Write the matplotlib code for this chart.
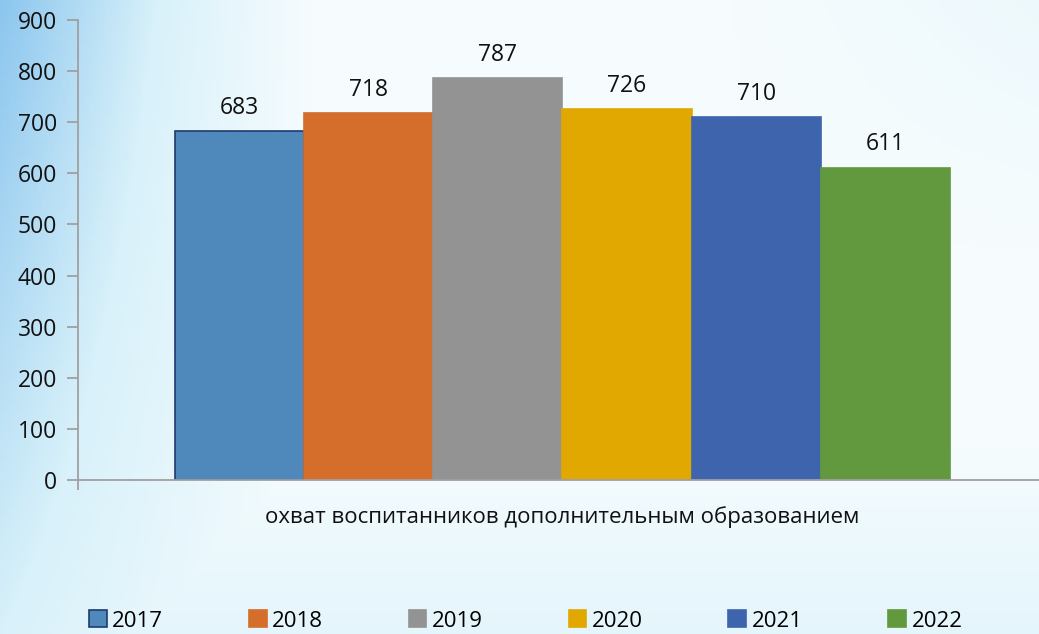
import numpy as np
import matplotlib.pyplot as plt
from matplotlib.colors import LinearSegmentedColormap

years = ["2017", "2018", "2019", "2020", "2021", "2022"]
values = [683, 718, 787, 726, 710, 611]
colors = ["#4f88bb", "#d46e2a", "#939393", "#e0a800", "#3d64ad", "#63993e"]
edges = ["#1f3a6e", "#d46e2a", "#939393", "#e0a800", "#3d64ad", "#63993e"]
category = "охват воспитанников дополнительным образованием"

plt.rcParams['font.family'] = ['Open Sans', 'DejaVu Sans']

fig = plt.figure(figsize=(10.39, 6.34), dpi=100)

# watercolor-like background: blue on the left, fading to pale cyan/white
bg = fig.add_axes([0, 0, 1, 1], zorder=-10)
xx, yy = np.meshgrid(np.linspace(0, 1, 300), np.linspace(0, 1, 200))
t = np.clip(1 - xx / 0.3, 0, 1) * (0.5 + 0.5 * yy)
t = np.maximum(t, 0.3 * np.clip(1 - yy / 0.3, 0, 1))
t = np.maximum(t, 0.15 * np.clip((xx - 0.7) / 0.3, 0, 1) * np.clip((yy - 0.6) / 0.4, 0, 1))
cmap = LinearSegmentedColormap.from_list("bgc", ["#f6fcfe", "#d8f1fa", "#8cc6ee"])
bg.imshow(t, cmap=cmap, aspect="auto", origin="lower", extent=[0, 1, 0, 1], vmin=0, vmax=1)
bg.axis("off")

ax = fig.add_axes([78 / 1039, 154 / 634, 961 / 1039, 460 / 634])
ax.patch.set_alpha(0)

for i, (v, c, e) in enumerate(zip(values, colors, edges)):
    ax.bar(i, v, width=1.0, color=c, edgecolor=e, linewidth=1.2, label=years[i])
    ax.text(i, v + 22, str(v), ha="center", va="bottom", fontsize=16.5, color="#111111")

ax.set_xlim(-1.25, 6.19)
ax.set_ylim(0, 900)
ax.set_yticks(range(0, 901, 100))
ax.tick_params(axis="y", labelsize=16.5, length=8, color="#a0a0a0", width=1.3, pad=7,
               labelcolor="#111111")
ax.set_xticks([-1.25])
ax.set_xticklabels([""])
ax.tick_params(axis="x", length=7, color="#a0a0a0", width=1.3)
for s in ["top", "right"]:
    ax.spines[s].set_visible(False)
for s in ["left", "bottom"]:
    ax.spines[s].set_color("#a0a0a0")
    ax.spines[s].set_linewidth(1.3)

fig.text(562 / 1039, 1 - 517 / 634, category, ha="center", va="center", fontsize=16, color="#111111")

leg = fig.legend(loc="center", bbox_to_anchor=(0.506, 1 - 621 / 634), ncol=6, frameon=False,
                 columnspacing=3.85, handlelength=0.8, handleheight=0.8,
                 handletextpad=0.25, fontsize=16)

fig.savefig("out.png", dpi=100)
